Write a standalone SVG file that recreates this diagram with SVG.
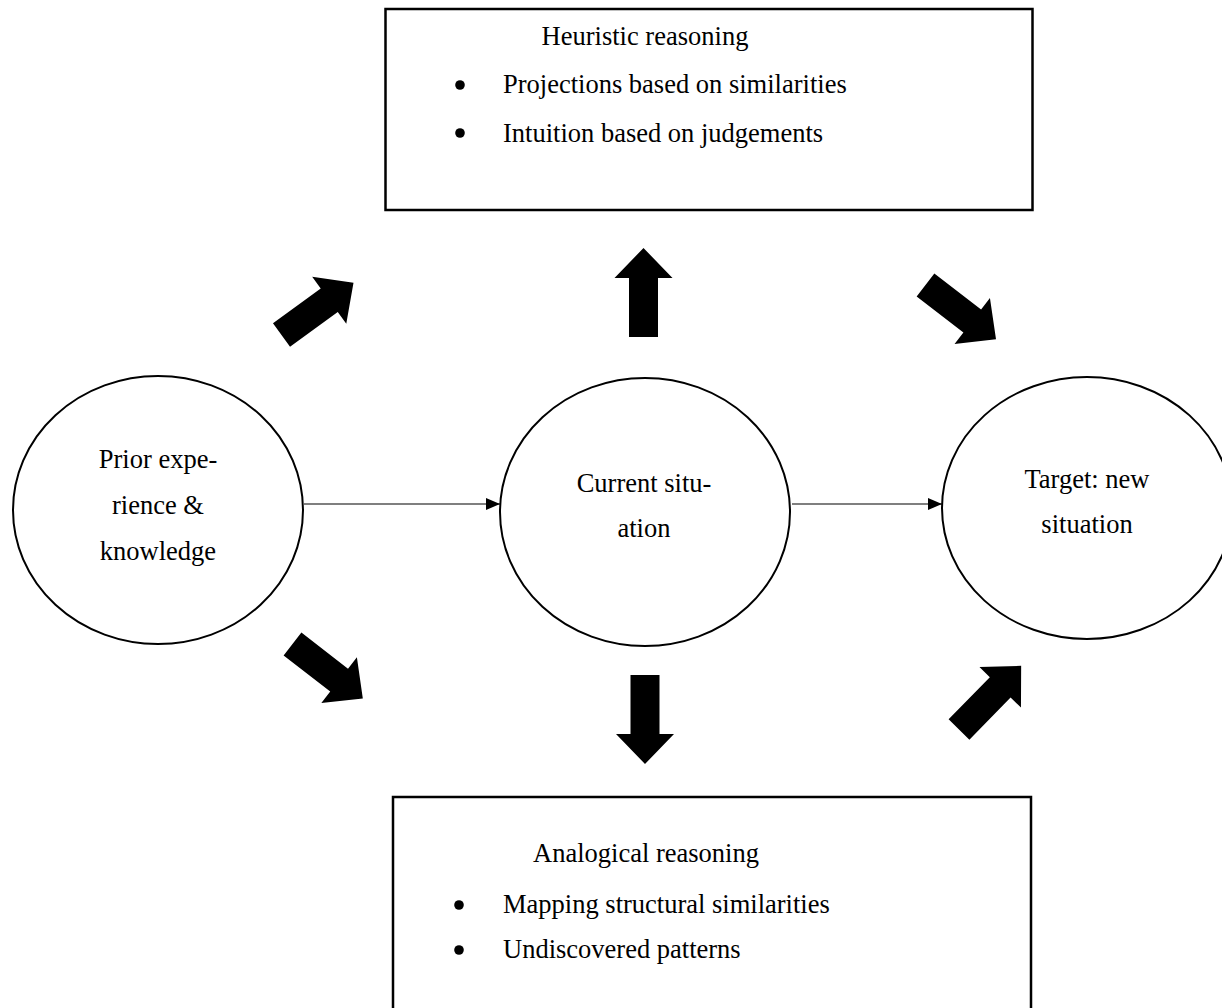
<svg xmlns="http://www.w3.org/2000/svg" width="1222" height="1008" viewBox="0 0 1222 1008">
  <style>
    text { font-family: "Liberation Serif", "Times New Roman", serif; font-size: 26.5px; fill: #000; }
    .c { text-anchor: middle; }
    .node { fill: #fff; stroke: #000; stroke-width: 2; }
    .box { fill: #fff; stroke: #000; stroke-width: 2.5; }
    .link { stroke: #000; stroke-width: 1.2; fill: none; }
    .blk { fill: #000; }
    .dot { fill: #000; }
  </style>
  <defs>
    <marker id="tri" viewBox="0 0 14 12" refX="14" refY="6" markerWidth="14" markerHeight="12" markerUnits="userSpaceOnUse" orient="auto">
      <path d="M0,0 L14,6 L0,12 Z" fill="#000"/>
    </marker>
    <!-- block arrow pointing along +x, tail at origin -->
    <path id="blk" d="M0,-14.5 L59,-14.5 L59,-29 L89,0 L59,29 L59,14.5 L0,14.5 Z"/>
  </defs>

  <g id="connectors">
    <line class="link" x1="304" y1="504" x2="500" y2="504" marker-end="url(#tri)"/>
    <line class="link" x1="792" y1="504" x2="942" y2="504" marker-end="url(#tri)"/>
    <use href="#blk" class="blk" transform="translate(281.5,335) rotate(-36)"/>
    <use href="#blk" class="blk" transform="translate(643.5,337) rotate(-90)"/>
    <use href="#blk" class="blk" transform="translate(925.5,285) rotate(37.6)"/>
    <use href="#blk" class="blk" transform="translate(292.5,644) rotate(37.8)"/>
    <use href="#blk" class="blk" transform="translate(645,675) rotate(90)"/>
    <use href="#blk" class="blk" transform="translate(959,729.5) rotate(-45.7)"/>
  </g>

  <g id="heuristic">
    <rect class="box" x="385.5" y="9" width="647" height="201"/>
    <text class="c" x="645" y="45">Heuristic reasoning</text>
    <circle class="dot" cx="460" cy="85" r="4.8"/>
    <text x="503" y="93">Projections based on similarities</text>
    <circle class="dot" cx="460" cy="133" r="4.8"/>
    <text x="503" y="142">Intuition based on judgements</text>
  </g>

  <g id="analogical">
    <rect class="box" x="393" y="797" width="638" height="230"/>
    <text class="c" x="646" y="862">Analogical reasoning</text>
    <circle class="dot" cx="459" cy="905" r="4.8"/>
    <text x="503" y="913">Mapping structural similarities</text>
    <circle class="dot" cx="459" cy="950" r="4.8"/>
    <text x="503" y="958">Undiscovered patterns</text>
  </g>

  <g id="prior">
    <ellipse class="node" cx="158" cy="510" rx="145" ry="134"/>
    <text class="c" x="158" y="468">Prior expe-</text>
    <text class="c" x="158" y="514">rience &amp;</text>
    <text class="c" x="158" y="560">knowledge</text>
  </g>

  <g id="current">
    <ellipse class="node" cx="645" cy="512" rx="145" ry="134"/>
    <text class="c" x="644" y="492">Current situ-</text>
    <text class="c" x="644" y="537">ation</text>
  </g>

  <g id="target">
    <ellipse class="node" cx="1087" cy="508" rx="145" ry="131"/>
    <text class="c" x="1087" y="488">Target: new</text>
    <text class="c" x="1087" y="533">situation</text>
  </g>
</svg>
